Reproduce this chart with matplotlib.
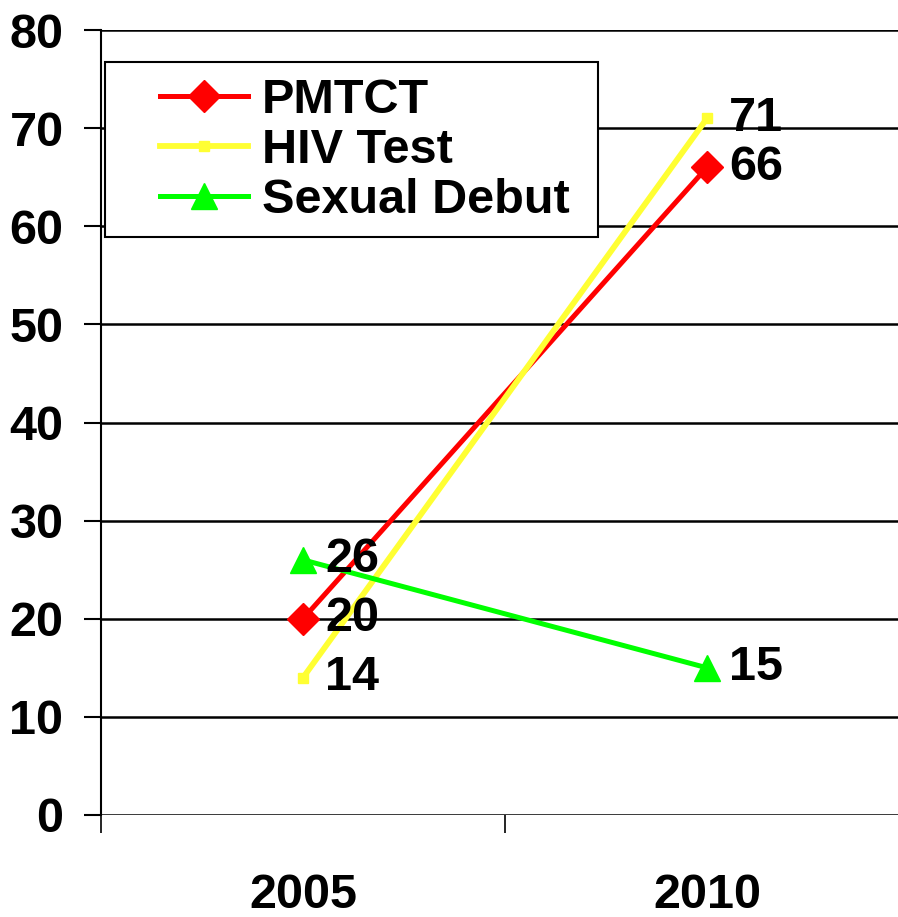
import matplotlib
matplotlib.use("Agg")
import matplotlib.pyplot as plt
from matplotlib.patches import Rectangle

# Data
years = ["2005", "2010"]
pmtct = [20, 66]
hiv_test = [14, 71]
sexual_debut = [26, 15]

plt.rcParams["font.family"] = ["Liberation Sans", "DejaVu Sans"]
plt.rcParams["font.weight"] = "bold"

W, H = 898, 917
fig = plt.figure(figsize=(W / 100, H / 100), dpi=100)
ax = fig.add_axes([101 / W, 102 / H, 808 / W, 785 / H])

x = list(range(len(years)))
ax.plot(x, pmtct, color="#ff0000", lw=3.6, marker="D", ms=16, label="PMTCT", zorder=3)
ax.plot(x, hiv_test, color="#ffff33", lw=4.2, marker="s", ms=7.5, label="HIV Test", zorder=3)
ax.plot(x, sexual_debut, color="#00ff00", lw=3.6, marker="^", ms=19, label="Sexual Debut", zorder=3)

for series in (pmtct, hiv_test, sexual_debut):
    for xi, v in zip(x, series):
        ax.annotate(str(v), (xi, v), xytext=(16, 0), textcoords="offset points",
                    ha="left", va="center", fontsize=35, fontweight="bold", zorder=4)

ax.set_xlim(-0.5, 1.5)
ax.set_ylim(0, 80)
ax.set_yticks(range(0, 81, 10))
ax.set_xticks(x)
ax.set_xticklabels(years)
ax.set_xticks([-0.5, 0.5, 1.5], minor=True)
ax.tick_params(axis="x", which="major", length=0, pad=42, labelsize=35)
ax.tick_params(axis="x", which="minor", length=13, width=1.2, direction="out")
ax.tick_params(axis="y", length=12, width=1.5, labelsize=35, pad=15)
for lbl in ax.get_xticklabels() + ax.get_yticklabels():
    lbl.set_fontweight("bold")

ax.grid(axis="y", color="black", lw=1.8)
ax.set_axisbelow(True)
for s in ("top", "right", "bottom"):
    ax.spines[s].set_visible(False)
ax.spines["left"].set_linewidth(1.5)

# legend box drawn separately (Excel-style padding)
fig.patches.append(Rectangle((105 / W, 1 - 237 / H), 493 / W, 175 / H,
                             transform=fig.transFigure, facecolor="white",
                             edgecolor="black", lw=1.5, zorder=5))
leg = fig.legend(loc="upper left", bbox_to_anchor=(160 / W, 1 - 78 / H), fontsize=35,
                 frameon=False, handlelength=1.8, borderpad=0, labelspacing=0.1,
                 handletextpad=0.3, borderaxespad=0)
leg.set_zorder(6)
for t in leg.get_texts():
    t.set_fontweight("bold")

fig.savefig("out.png", dpi=100)
